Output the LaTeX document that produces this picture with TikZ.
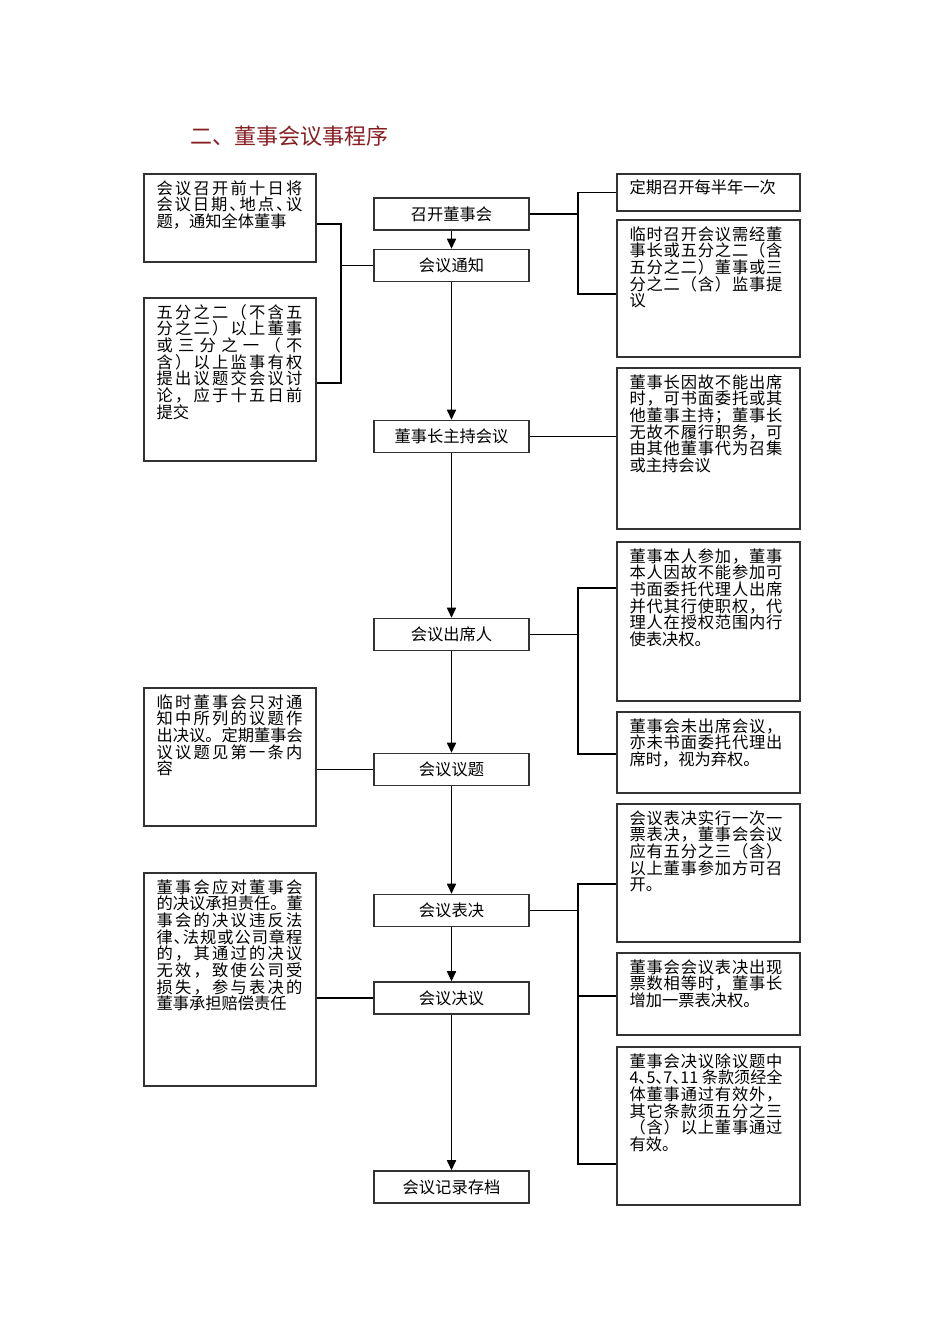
\documentclass[tikz,border=0pt]{standalone}
\usepackage{fontspec}
\setmainfont{Noto Sans CJK SC}
\usepackage{graphicx}
\usetikzlibrary{arrows.meta,fit,calc}
\definecolor{titlered}{RGB}{135,30,35}
\definecolor{boxline}{RGB}{50,50,50}
\newlength\jw
\def\spraux#1#2{#1\ifx\relax#2\else\hfil\expandafter\spraux\expandafter#2\fi}
\newcommand\jl[1]{\hbox to\jw{\spraux#1\relax\relax}}
\newcommand\nl[1]{\hbox{#1}}
\newcommand\boxtext[2]{\parbox[t]{#1}{\setlength\jw{#1}\fontsize{12.2pt}{12.5pt}\selectfont\baselineskip=12.5pt\lineskiplimit=-20pt\lineskip=0pt #2}}
\newcommand\hw{\makebox[0.5em][l]{、}}
\tikzset{
  box/.style={draw=boxline,line width=1.15pt,inner sep=0pt},
  cbox/.style={draw=boxline,line width=1.15pt,inner sep=0pt,minimum width=116.25pt,minimum height=24pt,
    font=\fontsize{12.2pt}{12.5pt}\selectfont,text height=10.6pt,text depth=1.4pt},
  txt/.style={inner sep=0pt,anchor=base west},
  conn/.style={draw=black,line width=1.05pt},
  arr/.style={draw=black,line width=1.05pt,-{Triangle[length=7.5pt,width=6.8pt]}}
}
\begin{document}
\begin{tikzpicture}[x=0.75pt,y=-0.75pt]
\useasboundingbox (0,0) rectangle (950,1344);
\fill[white] (0,0) rectangle (950,1344);
% title
\node[inner sep=0pt,anchor=base west,text=titlered,font=\fontsize{16.5pt}{18pt}\selectfont] (title) at (190,145) {二、董事会议事程序};
% center boxes
\node[cbox] (kq) at (451.5,214) {召开董事会};
\node[cbox] (tz) at (451.5,265.5) {会议通知};
\node[cbox] (zc) at (451.5,436.5) {董事长主持会议};
\node[cbox] (cx) at (451.5,634.5) {会议出席人};
\node[cbox] (yt) at (451.5,769.5) {会议议题};
\node[cbox] (bj) at (451.5,910.5) {会议表决};
\node[cbox] (jy) at (451.5,998) {会议决议};
\node[cbox] (gd) at (451.5,1187) {会议记录存档};
% left boxes
\node[box,fit={(144,174) (316,262)}] (L1) {};
\node[box,fit={(144,298) (316,461)}] (L2) {};
\node[box,fit={(144,688) (316,826)}] (L3) {};
\node[box,fit={(144,873) (316,1086)}] (L4) {};
% right boxes
\node[box,fit={(617,174) (800,211)}] (R1) {};
\node[box,fit={(617,220) (800,357)}] (R2) {};
\node[box,fit={(617,368) (800,529)}] (R3) {};
\node[box,fit={(617,542) (800,701)}] (R4) {};
\node[box,fit={(617,712) (800,793)}] (R5) {};
\node[box,fit={(617,804) (800,942)}] (R6) {};
\node[box,fit={(617,953) (800,1035)}] (R7) {};
\node[box,fit={(617,1047) (800,1205)}] (R8) {};
% left texts
\node[txt] (L1t) at ($(L1.north west)+(13,21)$) {\boxtext{109.5pt}{%
\jl{会议召开前十日将}\jl{会议日期\hw 地点\hw 议}\nl{题，通知全体董事}}};
\node[txt] (L2t) at ($(L2.north west)+(13,21)$) {\boxtext{109.5pt}{%
\jl{五分之二（不含五}\jl{分之二）以上董事}\jl{或三分之一（不}\jl{含）以上监事有权}\jl{提出议题交会议讨}\jl{论，应于十五日前}\nl{提交}}};
\node[txt] (L3t) at ($(L3.north west)+(13,21)$) {\boxtext{109.5pt}{%
\jl{临时董事会只对通}\jl{知中所列的议题作}\jl{出决议。定期董事会}\jl{议议题见第一条内}\nl{容}}};
\node[txt] (L4t) at ($(L4.north west)+(13,21)$) {\boxtext{109.5pt}{%
\jl{董事会应对董事会}\jl{的决议承担责任。董}\jl{事会的决议违反法}\jl{律\hw 法规或公司章程}\jl{的，其通过的决议}\jl{无效，致使公司受}\jl{损失，参与表决的}\nl{董事承担赔偿责任}}};
% right texts
\node[txt] (R1t) at ($(R1.north west)+(13,20)$) {\boxtext{114.75pt}{%
\nl{定期召开每半年一次}}};
\node[txt] (R2t) at ($(R2.north west)+(13,21)$) {\boxtext{114.75pt}{%
\jl{临时召开会议需经董}\jl{事长或五分之二（含}\jl{五分之二）董事或三}\jl{分之二（含）监事提}\nl{议}}};
\node[txt] (R3t) at ($(R3.north west)+(13,21)$) {\boxtext{114.75pt}{%
\jl{董事长因故不能出席}\jl{时，可书面委托或其}\jl{他董事主持；董事长}\jl{无故不履行职务，可}\jl{由其他董事代为召集}\nl{或主持会议}}};
\node[txt] (R4t) at ($(R4.north west)+(13,21)$) {\boxtext{114.75pt}{%
\jl{董事本人参加，董事}\jl{本人因故不能参加可}\jl{书面委托代理人出席}\jl{并代其行使职权，代}\jl{理人在授权范围内行}\nl{使表决权。}}};
\node[txt] (R5t) at ($(R5.north west)+(13,21)$) {\boxtext{114.75pt}{%
\jl{董事会未出席会议，}\jl{亦未书面委托代理出}\nl{席时，视为弃权。}}};
\node[txt] (R6t) at ($(R6.north west)+(13,21)$) {\boxtext{114.75pt}{%
\jl{会议表决实行一次一}\jl{票表决，董事会会议}\jl{应有五分之三（含）}\jl{以上董事参加方可召}\nl{开。}}};
\node[txt] (R7t) at ($(R7.north west)+(13,21)$) {\boxtext{114.75pt}{%
\jl{董事会会议表决出现}\jl{票数相等时，董事长}\nl{增加一票表决权。}}};
\node[txt] (R8t) at ($(R8.north west)+(13,21)$) {\boxtext{114.75pt}{%
\jl{董事会决议除议题中}\hbox to\jw{\resizebox{\jw}{\height}{\mbox{4\hw 5\hw 7\hw 11 条款须经全}}}\jl{体董事通过有效外，}\jl{其它条款须五分之三}\jl{（含）以上董事通过}\nl{有效。}}};
% arrows down the centre
\foreach \a/\b in {kq/tz,tz/zc,zc/cx,cx/yt,yt/bj,bj/jy,jy/gd}
  \draw[arr] (\a.south) -- (\b.north);
% left connectors
\coordinate (jl1) at (341,224);
\coordinate (jl2) at (341,383);
\coordinate (jl3) at (341,265.5);
\draw[conn] (L1.east |- jl1) -- (jl1) -- (jl2) -- (L2.east |- jl2);
\draw[conn] (jl3) -- (tz.west);
\draw[conn] (yt.west) -- (yt.west -| L3.east);
\draw[conn] (jy.west) -- (jy.west -| L4.east);
% right connectors
\coordinate (jr0) at (578,214);
\coordinate (jr1) at (578,192.5);
\coordinate (jr2) at (578,294);
\draw[conn] (kq.east) -- (jr0);
\draw[conn] (R1.west) -- (R1.west -| jr1) -- (jr2) -- (R2.west |- jr2);
\draw[conn] (zc.east) -- (zc.east -| R3.west);
\coordinate (jr3) at (578,588);
\coordinate (jr4) at (578,754);
\draw[conn] (cx.east) -- (cx.east -| jr3);
\draw[conn] (R4.west |- jr3) -- (jr3) -- (jr4) -- (R5.west |- jr4);
\coordinate (jr5) at (578,884);
\coordinate (jr6) at (578,996);
\coordinate (jr7) at (578,1164);
\draw[conn] (bj.east) -- (bj.east -| jr5);
\draw[conn] (R6.west |- jr5) -- (jr5) -- (jr7) -- (R8.west |- jr7);
\draw[conn] (jr6) -- (R7.west |- jr6);
\end{tikzpicture}
\end{document}
